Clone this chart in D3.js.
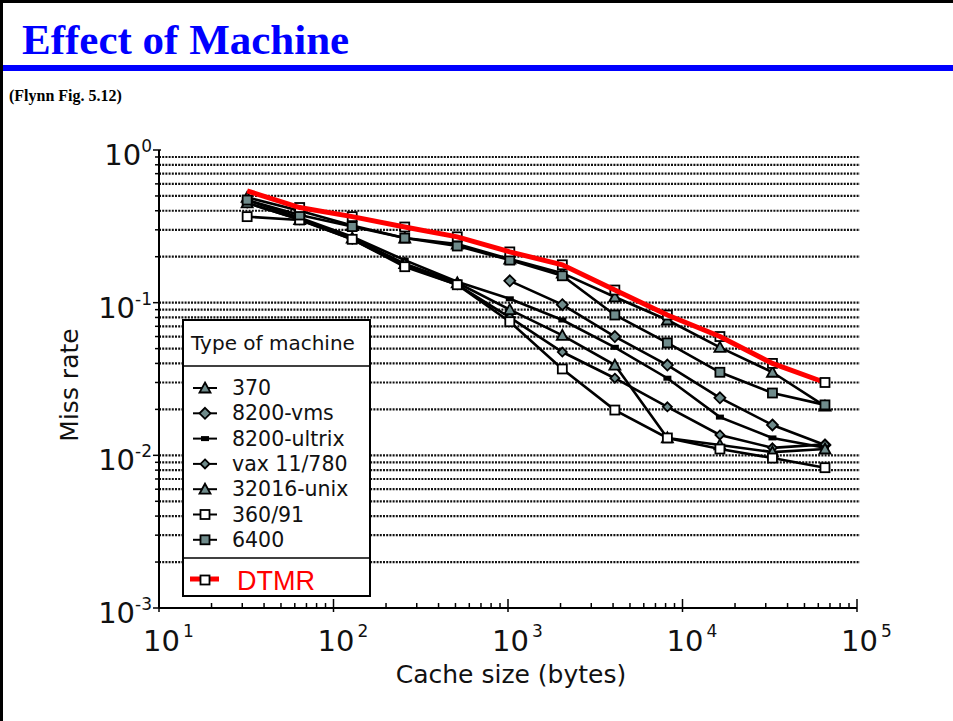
<!DOCTYPE html>
<html>
<head>
<meta charset="utf-8">
<script src="https://cdn.jsdelivr.net/npm/d3@7"></script>
<style>
  body { margin: 0; background: #fff; }
  svg { display: block; }
</style>
</head>
<body>
<script>
// cache sizes (bytes) and miss rates
const sizes = [32, 64, 128, 256, 512, 1024, 2048, 4096, 8192, 16384, 32768, 65536];
const dtmrRate = [0.54, 0.42, 0.366, 0.313, 0.27, 0.215, 0.177, 0.121, 0.083, 0.060, 0.040, 0.030];
const rate370 = [0.49, 0.40, 0.32, 0.265, 0.242, 0.193, 0.156, 0.109, 0.077, 0.051, 0.035, 0.021];
const rate8200vms = [null, null, null, null, null, 0.139, 0.097, 0.060, 0.039, 0.0238, 0.0158, 0.0117];
const rate8200ultrix = [0.47, 0.36, 0.27, 0.19, 0.137, 0.106, 0.077, 0.051, 0.032, 0.0178, 0.013, 0.0112];
const rateVax = [0.45, 0.35, 0.26, 0.175, 0.131, 0.08, 0.0475, 0.032, 0.0208, 0.0136, 0.0112, 0.0118];
const rate32016 = [0.45, 0.35, 0.265, 0.18, 0.135, 0.09, 0.061, 0.039, 0.013, 0.0117, 0.0105, 0.011];
const rate36091 = [0.366, 0.348, 0.26, 0.172, 0.131, 0.075, 0.0368, 0.0198, 0.013, 0.011, 0.0096, 0.0083];
const rate6400 = [0.47, 0.375, 0.315, 0.265, 0.235, 0.19, 0.15, 0.083, 0.0545, 0.035, 0.0256, 0.0214];

const machineNames = ["370", "8200-vms", "8200-ultrix", "vax 11/780", "32016-unix", "360/91", "6400"];
const machineRates = [rate370, rate8200vms, rate8200ultrix, rateVax, rate32016, rate36091, rate6400];
const machineSymbols = ["triangle", "diamond", "bar", "dot", "star", "square", "grid"];

const xMajor = [1, 2, 3, 4, 5];      // exponents of 10
const yMajor = [0, -1, -2, -3];

const width = 953, height = 721;
const svg = d3.select("body").append("svg")
  .attr("width", width)
  .attr("height", height);

// slide frame + header
svg.append("path")
  .attr("d", "M1.5,721 V1.5 H953")
  .attr("fill", "none")
  .attr("stroke", "#000")
  .attr("stroke-width", 3);

svg.append("text")
  .attr("x", 22).attr("y", 54)
  .attr("font-family", "Liberation Serif, Times New Roman, serif")
  .attr("font-weight", "bold")
  .attr("font-size", 43)
  .attr("fill", "#0000ff")
  .text("Effect of Machine");

svg.append("rect")
  .attr("x", 3).attr("y", 65)
  .attr("width", 950).attr("height", 6)
  .attr("fill", "#0000ff");

svg.append("text")
  .attr("x", 9).attr("y", 101)
  .attr("font-family", "Liberation Serif, Times New Roman, serif")
  .attr("font-weight", "bold")
  .attr("font-size", 16)
  .text("(Flynn Fig. 5.12)");

// scales
const x = d3.scaleLog().domain([10, 1e5]).range([159, 857]);
const y = d3.scaleLog().domain([1e-3, 1]).range([608, 150]);

// horizontal grid at every minor value
const gridVals = y.ticks().filter(v => v < 0.95 && v > 0.0011);
svg.append("g")
  .selectAll("line")
  .data(gridVals)
  .join("line")
    .attr("x1", x(10)).attr("x2", 860)
    .attr("y1", d => y(d)).attr("y2", d => y(d))
    .attr("stroke", "#111")
    .attr("stroke-width", 2.2)
    .attr("stroke-dasharray", "2,1.2");

// y axis
const yAxis = svg.append("g");
yAxis.append("line")
  .attr("x1", x(10)).attr("x2", x(10))
  .attr("y1", y(1)).attr("y2", y(1e-3))
  .attr("stroke", "#000").attr("stroke-width", 2);
yAxis.selectAll(".tk")
  .data(y.ticks())
  .join("line")
    .attr("x1", d => x(10) - (yMajor.includes(Math.round(Math.log10(d) * 1000) / 1000) ? 6 : 4))
    .attr("x2", x(10) + 2)
    .attr("y1", d => y(d)).attr("y2", d => y(d))
    .attr("stroke", "#000").attr("stroke-width", 1.5);

const yLab = yAxis.selectAll(".lab")
  .data(yMajor)
  .join("text")
    .attr("x", 152)
    .attr("y", d => y(Math.pow(10, d)) + 15)
    .attr("text-anchor", "end")
    .attr("font-family", "DejaVu Sans, sans-serif")
    .attr("font-size", 29)
    .attr("fill", "#111");
yLab.append("tspan").text("10");
yLab.append("tspan")
  .attr("font-size", 17)
  .attr("dy", -13)
  .text(d => d === 0 ? "0" : "-" + (-d));

// x axis
const xAxis = svg.append("g");
xAxis.append("line")
  .attr("x1", x(10)).attr("x2", x(1e5))
  .attr("y1", y(1e-3)).attr("y2", y(1e-3))
  .attr("stroke", "#000").attr("stroke-width", 2);
xAxis.selectAll(".tk")
  .data(x.ticks())
  .join("line")
    .attr("x1", d => x(d)).attr("x2", d => x(d))
    .attr("y1", d => {
      const isMajor = Math.abs(Math.log10(d) - Math.round(Math.log10(d))) < 1e-6;
      return y(1e-3) - (isMajor ? 9 : 5);
    })
    .attr("y2", d => {
      const isMajor = Math.abs(Math.log10(d) - Math.round(Math.log10(d))) < 1e-6;
      return y(1e-3) + (isMajor ? 4 : 1);
    })
    .attr("stroke", "#000").attr("stroke-width", 1.5);

const xLab = xAxis.selectAll(".lab")
  .data(xMajor)
  .join("text")
    .attr("x", d => x(Math.pow(10, d)) - 16)
    .attr("y", 651)
    .attr("font-family", "DejaVu Sans, sans-serif")
    .attr("font-size", 29)
    .attr("fill", "#111");
xLab.append("tspan").text("10");
xLab.append("tspan")
  .attr("font-size", 17)
  .attr("dy", -14)
  .attr("dx", 3)
  .text(d => d);

svg.append("text")
  .attr("x", 511).attr("y", 683)
  .attr("text-anchor", "middle")
  .attr("font-family", "DejaVu Sans, sans-serif")
  .attr("font-size", 25)
  .attr("fill", "#111")
  .text("Cache size (bytes)");

svg.append("text")
  .attr("transform", "translate(78,385) rotate(-90)")
  .attr("text-anchor", "middle")
  .attr("font-family", "DejaVu Sans, sans-serif")
  .attr("font-size", 25)
  .attr("fill", "#111")
  .text("Miss rate");

// marker drawing
function drawMarker(g, kind, cx, cy) {
  const s = 4.5;
  if (kind === "triangle" || kind === "star") {
    g.append("path")
      .attr("d", `M${cx},${cy - s - 1} L${cx + s + 1},${cy + s} L${cx - s - 1},${cy + s} Z`)
      .attr("fill", "#6f8b8b").attr("stroke", "#000").attr("stroke-width", 1.8);
  } else if (kind === "diamond" || kind === "dot") {
    const r = kind === "dot" ? s : s + 1;
    g.append("path")
      .attr("d", `M${cx},${cy - r} L${cx + r},${cy} L${cx},${cy + r} L${cx - r},${cy} Z`)
      .attr("fill", "#6f8b8b").attr("stroke", "#000").attr("stroke-width", 1.8);
  } else if (kind === "bar") {
    g.append("rect")
      .attr("x", cx - 4).attr("y", cy - 2.5)
      .attr("width", 8).attr("height", 5)
      .attr("fill", "#000");
  } else if (kind === "square" || kind === "grid") {
    g.append("rect")
      .attr("x", cx - s).attr("y", cy - s)
      .attr("width", 2 * s).attr("height", 2 * s)
      .attr("fill", kind === "square" ? "#fff" : "#6f8b8b")
      .attr("stroke", "#000").attr("stroke-width", 1.8);
  }
}

const line = d3.line()
  .defined(d => d[1] != null)
  .x(d => x(d[0]))
  .y(d => y(d[1]));

// machine series
const seriesG = svg.append("g");
machineRates.forEach(rates => {
  const pts = sizes.map((s, j) => [s, rates[j]]);
  seriesG.append("path")
    .datum(pts)
    .attr("d", line)
    .attr("fill", "none")
    .attr("stroke", "#000")
    .attr("stroke-width", 2.6);
});
machineRates.forEach((rates, i) => {
  const mg = seriesG.append("g");
  sizes.forEach((s, j) => {
    if (rates[j] != null) drawMarker(mg, machineSymbols[i], x(s), y(rates[j]));
  });
});

// DTMR
const dtmrPts = sizes.map((s, j) => [s, dtmrRate[j]]);
const dtmrG = svg.append("g");
dtmrPts.slice(1, -1).forEach(p => drawMarker(dtmrG, "square", x(p[0]), y(p[1])));
dtmrG.append("path")
  .datum(dtmrPts)
  .attr("d", line)
  .attr("fill", "none")
  .attr("stroke", "#ff0000")
  .attr("stroke-width", 5);
const last = dtmrPts[dtmrPts.length - 1];
drawMarker(dtmrG, "square", x(last[0]), y(last[1]));

// legend
const lg = svg.append("g");
lg.append("rect")
  .attr("x", 183).attr("y", 320)
  .attr("width", 187).attr("height", 276)
  .attr("fill", "#fff")
  .attr("stroke", "#000").attr("stroke-width", 2);
lg.append("line").attr("x1", 183).attr("x2", 370).attr("y1", 366).attr("y2", 366)
  .attr("stroke", "#000").attr("stroke-width", 1.5);
lg.append("line").attr("x1", 183).attr("x2", 370).attr("y1", 558).attr("y2", 558)
  .attr("stroke", "#000").attr("stroke-width", 1.5);
lg.append("text")
  .attr("x", 191).attr("y", 350)
  .attr("font-family", "DejaVu Sans, sans-serif")
  .attr("font-size", 20)
  .attr("fill", "#111")
  .text("Type of machine");

machineNames.forEach((name, i) => {
  const ly = 388 + i * 25.3;
  lg.append("line")
    .attr("x1", 193).attr("x2", 217)
    .attr("y1", ly).attr("y2", ly)
    .attr("stroke", "#000").attr("stroke-width", 2);
  drawMarker(lg, machineSymbols[i], 205, ly);
  lg.append("text")
    .attr("x", 232).attr("y", ly + 7)
    .attr("font-family", "DejaVu Sans, sans-serif")
    .attr("font-size", 20.5)
    .attr("fill", "#111")
    .text(name);
});

lg.append("line")
  .attr("x1", 190).attr("x2", 219)
  .attr("y1", 579).attr("y2", 579)
  .attr("stroke", "#ff0000").attr("stroke-width", 5);
drawMarker(lg, "square", 205, 580);
lg.append("text")
  .attr("x", 237).attr("y", 590)
  .attr("font-family", "Liberation Sans, Arial, sans-serif")
  .attr("font-size", 27)
  .attr("fill", "#ff0000")
  .text("DTMR");
</script>
</body>
</html>
